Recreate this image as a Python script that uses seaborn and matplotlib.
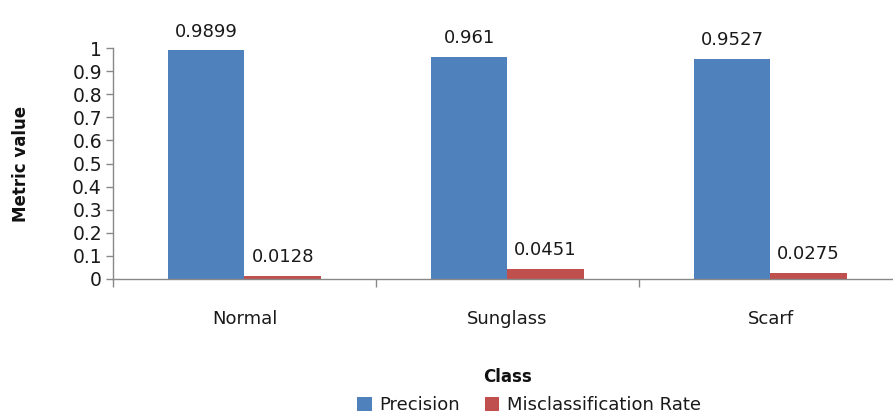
import matplotlib
matplotlib.use("Agg")
import matplotlib.pyplot as plt
import seaborn as sns
import pandas as pd
from matplotlib.ticker import FixedLocator

classes = ["Normal", "Sunglass", "Scarf"]
precision = [0.9899, 0.961, 0.9527]
misclassification = [0.0128, 0.0451, 0.0275]
series_names = ["Precision", "Misclassification Rate"]
y_ticks = [0, 0.1, 0.2, 0.3, 0.4, 0.5, 0.6, 0.7, 0.8, 0.9, 1]
y_tick_labels = ["0", "0.1", "0.2", "0.3", "0.4", "0.5", "0.6", "0.7", "0.8", "0.9", "1"]

df = pd.DataFrame({
    "Class": classes * 2,
    "Metric": [series_names[0]] * 3 + [series_names[1]] * 3,
    "Value": precision + misclassification,
})

sns.set_style("white")
plt.rcParams["font.family"] = ["DejaVu Sans"]

fig = plt.figure(figsize=(8.93, 4.19), dpi=100)
ax = fig.add_axes([113 / 893, 1 - 279 / 419, (902 - 113) / 893, (279 - 48) / 419])

palette = {series_names[0]: "#4F81BD", series_names[1]: "#C0504D"}
sns.barplot(data=df, x="Class", y="Value", hue="Metric", order=classes,
            hue_order=series_names, palette=palette, width=0.58,
            saturation=1, linewidth=0, ax=ax, legend=True)

# value labels above each bar
for container in ax.containers:
    ax.bar_label(container, labels=[f"{v:g}" for v in container.datavalues],
                 padding=7, fontsize=13, color="#1a1a1a")

ax.set_ylim(0, 1)
ax.set_xlim(-0.5, 2.5)
ax.set_yticks(y_ticks)
ax.set_yticklabels(y_tick_labels, fontsize=13.5, color="#1a1a1a")
ax.tick_params(axis="y", length=5, width=1, color="#888888", pad=3, left=True, direction="out")

# category labels centred, tick marks at category boundaries
ax.set_xticks(range(len(classes)))
ax.set_xticklabels(classes, fontsize=13, color="#1a1a1a")
ax.tick_params(axis="x", which="major", length=0, pad=22)
ax.xaxis.set_minor_locator(FixedLocator([-0.5, 0.5, 1.5, 2.5]))
ax.tick_params(axis="x", which="minor", length=6, width=1, color="#888888", bottom=True, direction="out")

for side in ["top", "right"]:
    ax.spines[side].set_visible(False)
for side in ["left", "bottom"]:
    ax.spines[side].set_color("#888888")
    ax.spines[side].set_linewidth(1)

ax.set_ylabel("Metric value", fontsize=12, fontweight="bold", labelpad=30, color="#111111")
ax.set_xlabel("Class", fontsize=12, fontweight="bold", labelpad=29, color="#111111")

leg = ax.legend(loc="center", bbox_to_anchor=(529 / 893, 1 - 405 / 419),
                bbox_transform=fig.transFigure, ncol=2, frameon=False,
                fontsize=13, handlelength=0.8, handleheight=0.8,
                handletextpad=0.4, columnspacing=1.4, borderaxespad=0)
for text in leg.get_texts():
    text.set_color("#1a1a1a")

fig.savefig("out.png", dpi=100)
